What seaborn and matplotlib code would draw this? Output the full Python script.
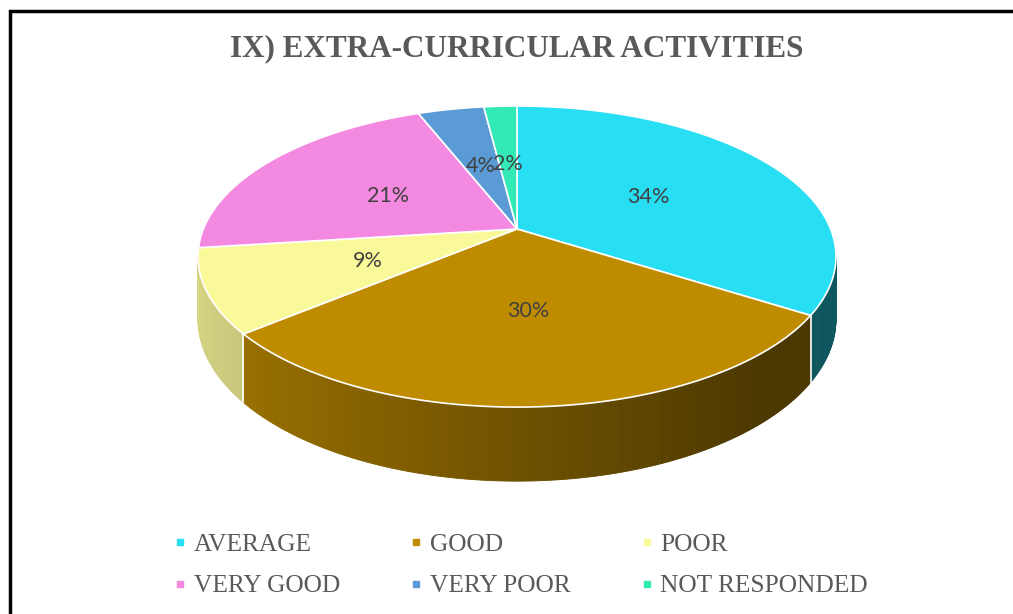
import numpy as np
import matplotlib
matplotlib.use("Agg")
import matplotlib.pyplot as plt
from matplotlib.lines import Line2D
from matplotlib.patches import Rectangle
import seaborn as sns

# ---- data ----
categories = ["AVERAGE", "GOOD", "POOR", "VERY GOOD", "VERY POOR", "NOT RESPONDED"]
percentages = [34, 30, 9, 21, 4, 2]
slice_colors = ["#27DEF2", "#BF8C00", "#FAF99A", "#F389E0", "#5B9BD5", "#33E9B5"]
title_text = "IX) EXTRA-CURRICULAR ACTIVITIES"

sns.set_theme(style="white")
plt.rcParams["font.family"] = ["Liberation Serif", "DejaVu Serif"]
palette = sns.color_palette(slice_colors)

# ---- 3-D pie geometry (figure pixel space, perspective view) ----
CX, CY = 517.0, 229.0        # apex of the pie on screen
RX, RY = 313.6, 145.5        # projected radii
PERSP = 0.183                # perspective foreshortening towards the back
DEPTH = 60.5                 # thickness of the disc


def project(theta, r=1.0, drop=0.0):
    """Map a polar point of the pie plane (clockwise from 12 o'clock) to screen."""
    u = r * np.sin(theta)
    v = r * np.cos(theta)
    w = 1.0 + PERSP * v
    return CX + RX * u / w, CY - RY * v / w + drop / w


def side_shade(theta):
    u = np.sin(theta)
    return float(np.clip(0.58 - 0.28 * u, 0.39, 0.88))


fig = plt.figure(figsize=(10.13, 6.14), dpi=100)
ax = fig.add_axes([0, 0, 1, 1])
ax.set_xlim(0, 1013)
ax.set_ylim(614, 0)
ax.axis("off")

vals = np.asarray(percentages, dtype=float)
bounds = np.concatenate([[0.0], np.cumsum(vals) / vals.sum() * 2 * np.pi])

vis_lo = np.arccos(-PERSP)
vis_hi = 2 * np.pi - vis_lo

# outer walls (front half only), drawn as thin shaded strips
for i, col in enumerate(palette):
    a, b = max(bounds[i], vis_lo), min(bounds[i + 1], vis_hi)
    if b <= a:
        continue
    n = max(2, int(np.degrees(b - a) / 0.5))
    ts = np.linspace(a, b, n + 1)
    for t0, t1 in zip(ts[:-1], ts[1:]):
        tt = np.array([t0, t1])
        xt, yt = project(tt)
        xb, yb = project(tt[::-1], drop=DEPTH)
        f = side_shade(0.5 * (t0 + t1))
        c = tuple(np.array(col) * f)
        ax.fill(np.r_[xt, xb], np.r_[yt, yb], fc=c, ec=c, lw=0.6, zorder=2)

# white seams where slices meet on the visible wall
for t in bounds[1:-1]:
    if vis_lo < t < vis_hi:
        x0, y0 = project(t)
        x1, y1 = project(t, drop=DEPTH)
        ax.plot([x0, x1], [y0, y1], color="white", lw=1.2, zorder=3)

# top faces
for i, col in enumerate(palette):
    ts = np.linspace(bounds[i], bounds[i + 1], 200)
    xs, ys = project(ts)
    ax.fill(np.r_[CX, xs], np.r_[CY, ys], fc=col, ec="white", lw=1.2,
            joinstyle="round", zorder=4)

# percentage labels
for i, p in enumerate(percentages):
    mid = 0.5 * (bounds[i] + bounds[i + 1])
    lx, ly = project(mid, r=0.5)
    ax.text(lx, ly, f"{p}%", ha="center", va="center_baseline", fontsize=15.5,
            family=["Lato", "DejaVu Sans"], color="#404040", zorder=5)

# title
fig.text(CX / 1013, 1 - 49 / 614, title_text, ha="center", va="center",
         fontsize=22.4, fontweight="bold", color="#595959")

# legend, row-major order across three columns
order = [0, 3, 1, 4, 2, 5]
handles = [Line2D([], [], ls="none", marker="s", markersize=4.5,
                  markerfacecolor=palette[k], markeredgecolor=palette[k])
           for k in order]
labels = [categories[k] for k in order]
leg = fig.legend(handles, labels, ncol=3, loc="center left",
                 bbox_to_anchor=(174 / 1013, 1 - 565.5 / 614),
                 frameon=False, fontsize=18.3, handlelength=0.5,
                 handletextpad=0.28, columnspacing=2.75, labelspacing=0.72,
                 borderpad=0, borderaxespad=0)
for t in leg.get_texts():
    t.set_color("#595959")

# chart border (top and left edges visible)
fig.patches.append(Rectangle((10 / 1013, -0.5), 2.0, 1.5 - 11 / 614,
                             transform=fig.transFigure, fill=False,
                             ec="black", lw=2.5, zorder=10))

fig.savefig("out.png", dpi=100, facecolor="white")
